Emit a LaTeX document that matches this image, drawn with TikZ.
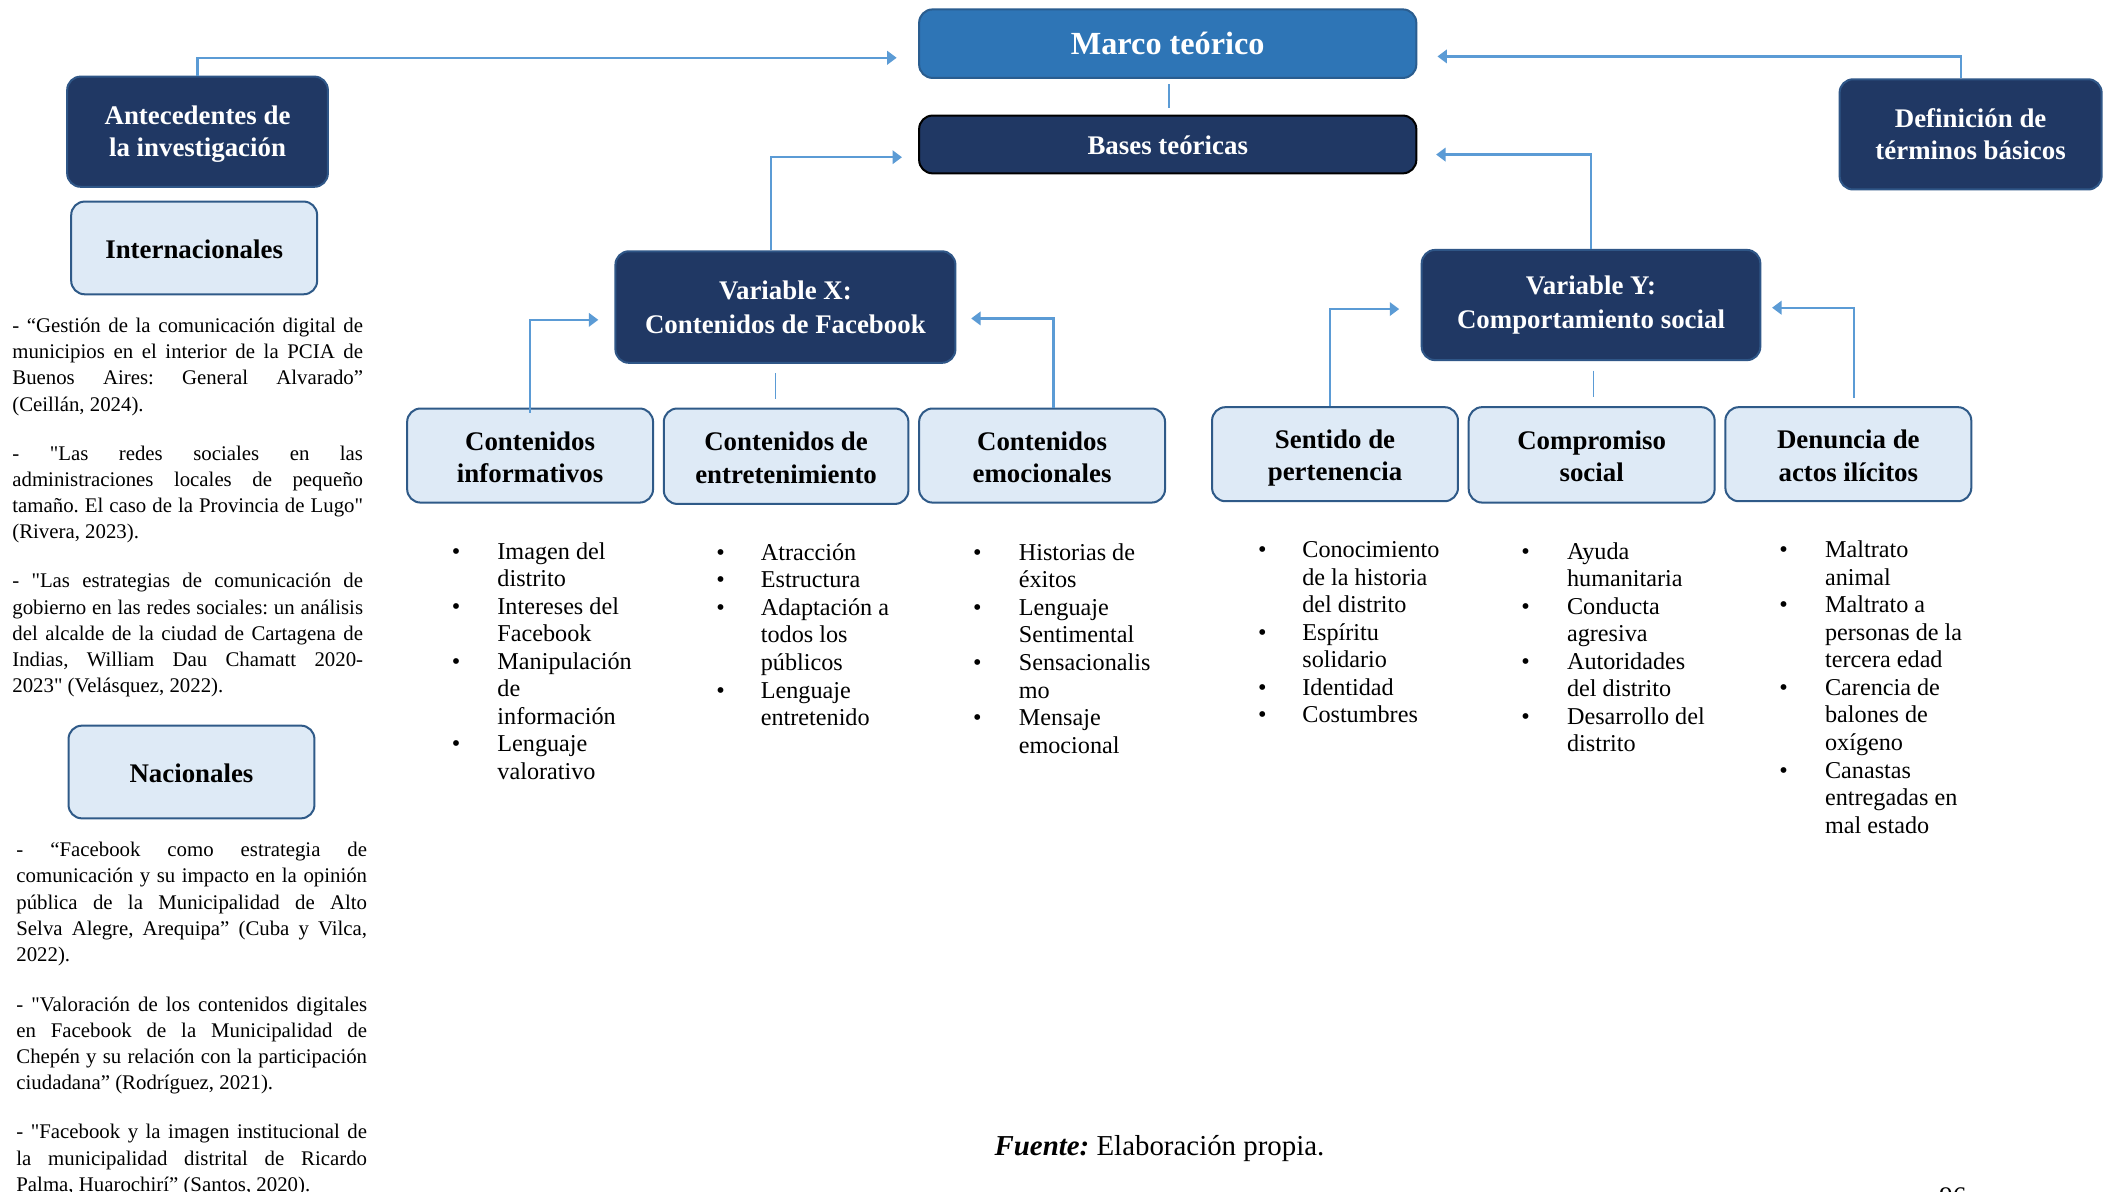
\documentclass[tikz,border=0pt]{standalone}
\usepackage{fontspec}
\setmainfont{Liberation Serif}[Ligatures=TeXOff]
\usetikzlibrary{arrows.meta,calc}
\definecolor{navy}{HTML}{203864}
\definecolor{midblue}{HTML}{2E75B6}
\definecolor{midborder}{HTML}{2A5D8F}
\definecolor{navyborder}{HTML}{2F5687}
\definecolor{lightfill}{HTML}{DEEAF6}
\definecolor{lightborder}{HTML}{2F5A88}
\definecolor{linkblue}{HTML}{5B9BD5}
\newcommand{\bxtop}{\rule{0pt}{20pt}}
\newcommand{\bxtopd}{\rule{0pt}{18pt}}
\newcommand{\bxtopb}{\rule{0pt}{14pt}}
\newcommand{\bxbot}{\rule[-4pt]{0pt}{4pt}}
\newcommand{\bxstruts}{\rule[-4pt]{0pt}{23pt}}
\frenchspacing
\begin{document}
\begin{tikzpicture}[x=1pt,y=-1pt,
  box/.style={rounded corners=10pt, line width=1.5pt, align=center, inner sep=2pt,
    font=\bfseries\fontsize{20}{24}\selectfont},
  darkbox/.style={box, fill=navy, draw=navyborder, text=white},
  lightbox/.style={box, fill=lightfill, draw=lightborder, text=black},
  arr/.style={draw=linkblue, line width=1.6pt, -{Triangle[length=7pt,width=10pt]}},
  thinln/.style={draw=linkblue, line width=0.9pt},
  refpar/.style={anchor=base west, text width=261pt, align=justify, inner sep=0pt,
    font=\fontsize{15.5}{19.5}\selectfont},
  blist/.style={anchor=base west, inner sep=0pt, font=\fontsize{18}{20.5}\selectfont},
]
\useasboundingbox (0,0) rectangle (1568,887);
\fill[white] (0,0) rectangle (1568,887);

% top boxes
\node[box, fill=midblue, draw=midborder, text=white, minimum width=370pt, minimum height=51pt,
  font=\bfseries\fontsize{24}{28}\selectfont] (marco) at (869,32.5) {Marco teórico};
\node[box, fill=navy, draw=black, text=white, minimum width=370pt, minimum height=43pt] (bases) at (869,107.5) {\bxstruts Bases teóricas};
\node[darkbox, minimum width=194pt, minimum height=82pt] (antec) at (147,98) {\bxtopd Antecedentes de\\la investigación\bxbot};
\node[darkbox, minimum width=195pt, minimum height=82pt] (defin) at (1466.5,100) {\bxtopd Definición de\\términos básicos\bxbot};
\node[lightbox, minimum width=183pt, minimum height=69pt] (intl) at (144.5,184.5) {\bxstruts Internacionales};
\node[lightbox, minimum width=183pt, minimum height=69pt] (nac) at (142.5,574.5) {\bxstruts Nacionales};

% variables
\node[darkbox, minimum width=253pt, minimum height=83pt, font=\bfseries\fontsize{20}{25}\selectfont] (varx) at (584.5,228.5) {\bxtopd Variable X:\\Contenidos de Facebook\bxbot};
\node[darkbox, minimum width=252pt, minimum height=82pt, font=\bfseries\fontsize{20}{25}\selectfont] (vary) at (1184,227) {\bxtopb Variable Y:\\Comportamiento social\bxbot};

% dimensions
\node[lightbox, minimum width=183pt, minimum height=70pt] (c1) at (394.5,339) {\bxtop Contenidos\\informativos\bxbot};
\node[lightbox, minimum width=182pt, minimum height=71pt] (c2) at (585,339.5) {\bxtop Contenidos de\\entretenimiento\bxbot};
\node[lightbox, minimum width=183pt, minimum height=70pt] (c3) at (775.5,339) {\bxtop Contenidos\\emocionales\bxbot};
\node[lightbox, minimum width=183pt, minimum height=70pt] (s1) at (993.5,338) {\bxtop Sentido de\\pertenencia\bxbot};
\node[lightbox, minimum width=183pt, minimum height=71pt] (s2) at (1184.5,338.5) {\bxtop Compromiso\\social\bxbot};
\node[lightbox, minimum width=183pt, minimum height=70pt] (s3) at (1375.5,338) {\bxtop Denuncia de\\actos ilícitos\bxbot};

% connectors
\draw[arr] (antec.north) |- ($(marco.west)+(-16,10.5)$);
\draw[arr] ($(defin.north)+(-7,0)$) |- ($(marco.east)+(15,9.5)$);
\draw[thinln] ($(marco.south)+(1,4)$) -- ($(bases.north)+(1,-5)$);
\draw[arr] ($(varx.north)+(-10.5,0)$) |- ($(bases.west)+(-12,9.5)$);
\draw[arr] (vary.north) |- ($(bases.east)+(14,7.5)$);
\draw[arr] ($(c1.north)+(0,4)$) |- ($(varx.west)+(-12,9.5)$);
\draw[arr] ($(c3.north)+(8.5,0)$) |- ($(varx.east)+(11,8.5)$);
\draw[thinln] ($(varx.south)+(-7.5,7)$) -- ($(c2.north)+(-8,-6)$);
\draw[arr] ($(s1.north)+(-3.5,0)$) |- ($(vary.west)+(-16,3)$);
\draw[arr] ($(s3.north)+(4.5,-6)$) |- ($(vary.east)+(8,2)$);
\draw[thinln] ($(vary.south)+(2,7)$) -- ($(s2.north)+(1.5,-7)$);

% references
\node[refpar] (r1) at (9,247.5) {- “Gestión de la comunicación digital de\linebreak municipios en el interior de la PCIA de\linebreak Buenos Aires: General Alvarado”\linebreak (Ceillán, 2024).};
\node[refpar] (r2) at (9,342.5) {- "Las redes sociales en las\linebreak administraciones locales de pequeño\linebreak tamaño. El caso de la Provincia de Lugo"\linebreak (Rivera, 2023).};
\node[refpar] (r3) at (9,437.5) {- "Las estrategias de comunicación de\linebreak gobierno en las redes sociales: un análisis\linebreak del alcalde de la ciudad de Cartagena de\linebreak Indias, William Dau Chamatt 2020-\linebreak 2023" (Velásquez, 2022).};
\node[refpar] (r4) at (12,637.5) {- “Facebook como estrategia de\linebreak comunicación y su impacto en la opinión\linebreak pública de la Municipalidad de Alto\linebreak Selva Alegre, Arequipa” (Cuba y Vilca,\linebreak 2022).};
\node[refpar] (r5) at (12,752.5) {- "Valoración de los contenidos digitales\linebreak en Facebook de la Municipalidad de\linebreak Chepén y su relación con la participación\linebreak ciudadana” (Rodríguez, 2021).};
\node[refpar] (r6) at (12,847.5) {- "Facebook y la imagen institucional de\linebreak la municipalidad distrital de Ricardo\linebreak Palma, Huarochirí” (Santos, 2020).};

% bullet lists
\node[blist] (l1) at (336,416) {\begin{tabular}[t]{@{}p{34pt}@{}l@{}}
\textbullet & Imagen del\\ & distrito\\ \textbullet & Intereses del\\ & Facebook\\
\textbullet & Manipulación\\ & de\\ & información\\ \textbullet & Lenguaje\\ & valorativo
\end{tabular}};
\node[blist] (l2) at (533,417) {\begin{tabular}[t]{@{}p{33pt}@{}l@{}}
\textbullet & Atracción\\ \textbullet & Estructura\\ \textbullet & Adaptación a\\ & todos los\\ & públicos\\
\textbullet & Lenguaje\\ & entretenido
\end{tabular}};
\node[blist] (l3) at (724,417) {\begin{tabular}[t]{@{}p{34pt}@{}l@{}}
\textbullet & Historias de\\ & éxitos\\ \textbullet & Lenguaje\\ & Sentimental\\
\textbullet & Sensacionalis\\ & mo\\ \textbullet & Mensaje\\ & emocional
\end{tabular}};
\node[blist] (l4) at (936,415) {\begin{tabular}[t]{@{}p{33pt}@{}l@{}}
\textbullet & Conocimiento\\ & de la historia\\ & del distrito\\ \textbullet & Espíritu\\ & solidario\\
\textbullet & Identidad\\ \textbullet & Costumbres
\end{tabular}};
\node[blist] (l5) at (1132,416) {\begin{tabular}[t]{@{}p{34pt}@{}l@{}}
\textbullet & Ayuda\\ & humanitaria\\ \textbullet & Conducta\\ & agresiva\\
\textbullet & Autoridades\\ & del distrito\\ \textbullet & Desarrollo del\\ & distrito
\end{tabular}};
\node[blist] (l6) at (1324,415) {\begin{tabular}[t]{@{}p{34pt}@{}l@{}}
\textbullet & Maltrato\\ & animal\\ \textbullet & Maltrato a\\ & personas de la\\ & tercera edad\\
\textbullet & Carencia de\\ & balones de\\ & oxígeno\\ \textbullet & Canastas\\ & entregadas en\\ & mal estado
\end{tabular}};

% source and page number
\node[anchor=base west, inner sep=0pt, font=\fontsize{21.5}{24}\selectfont] (src) at (740,860) {\textbf{\textit{Fuente:}} Elaboración propia.};
\node[anchor=base west, inner sep=0pt, font=\fontsize{20}{24}\selectfont] (pg) at (1443,897) {96};
\end{tikzpicture}
\end{document}
